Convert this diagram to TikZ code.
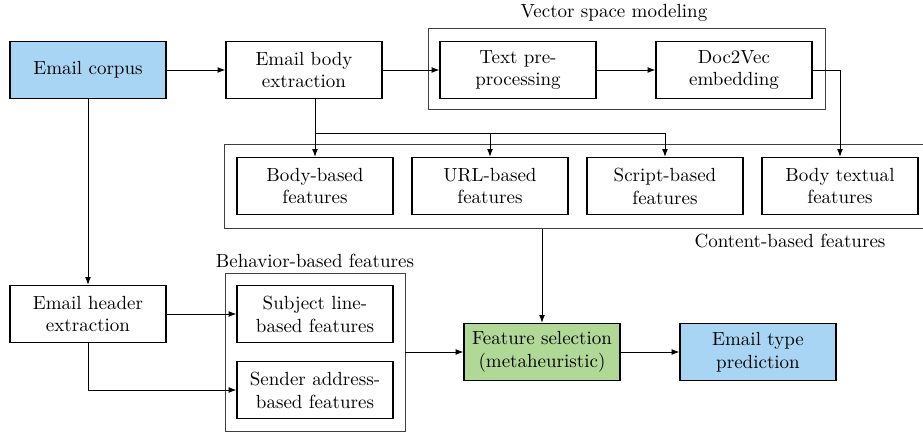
\documentclass[tikz,border=0pt]{standalone}
\usetikzlibrary{arrows.meta}
\definecolor{boxblue}{RGB}{168,213,243}
\definecolor{boxgreen}{RGB}{176,217,152}
\begin{document}
\begin{tikzpicture}[x=0.526pt,y=-0.526pt,
  stepbox/.style={draw, line width=0.75pt, minimum width=82pt, minimum height=30pt, align=center, inner sep=1pt},
  groupbox/.style={draw=black!75, line width=0.5pt, inner sep=0pt},
  grouplabel/.style={inner sep=0pt},
  arr/.style={-{Latex[length=4pt,width=3pt]}, line width=0.45pt}]
\useasboundingbox (0,0) rectangle (923,433);
% group boxes
\node[groupbox, minimum width=208.8pt, minimum height=43.1pt] (vsm) at (626.5,69) {};
\node[groupbox, minimum width=373.5pt, minimum height=43.7pt] (cbf) at (580,186.5) {};
\node[groupbox, minimum width=94.7pt, minimum height=83.6pt] (bbf) at (315,352.5) {};
\node[grouplabel] (vsmlab) at (614,13) {Vector space modeling};
\node[grouplabel] (cbflab) at (790,241) {Content-based features};
\node[grouplabel] (bbflab) at (315,261) {Behavior-based features};
% steps
\node[stepbox, fill=boxblue] (corpus) at (88,70) {Email corpus};
\node[stepbox] (body) at (304,70) {Email body\\extraction};
\node[stepbox] (pre) at (518,70) {Text pre-\\processing};
\node[stepbox] (d2v) at (734,70) {Doc2Vec\\embedding};
\node[stepbox] (bb) at (315,186) {Body-based\\features};
\node[stepbox] (url) at (490,186) {URL-based\\features};
\node[stepbox] (sb) at (665,186) {Script-based\\features};
\node[stepbox] (bt) at (840,186) {Body textual\\features};
\node[stepbox] (head) at (88,314) {Email header\\extraction};
\node[stepbox] (subj) at (315,314) {Subject line-\\based features};
\node[stepbox] (send) at (315,390) {Sender address-\\based features};
\node[stepbox, fill=boxgreen] (fs) at (542,352) {Feature selection\\(metaheuristic)};
\node[stepbox, fill=boxblue] (pred) at (758,352) {Email type\\prediction};
% connectors
\draw[arr] (corpus.east) -- (body.west);
\draw[arr] (body.east) -- (pre.west);
\draw[arr] (pre.east) -- (d2v.west);
\draw[arr] (d2v.east) -| (bt.north);
\draw[arr] (bb.north |- body.south) -- (bb.north);
\coordinate (j) at (315,133);
\draw[arr] (j) -| (url.north);
\draw[arr] (j) -| (sb.north);
\draw[arr] (corpus.south) -- (head.north);
\draw[arr] (head.east) -- (subj.west);
\draw[arr] (head.south) |- (send.west);
\draw[arr] (bbf.east |- fs.west) -- (fs.west);
\draw[arr] (fs.north |- cbf.south) -- (fs.north);
\draw[arr] (fs.east) -- (pred.west);
\end{tikzpicture}
\end{document}
